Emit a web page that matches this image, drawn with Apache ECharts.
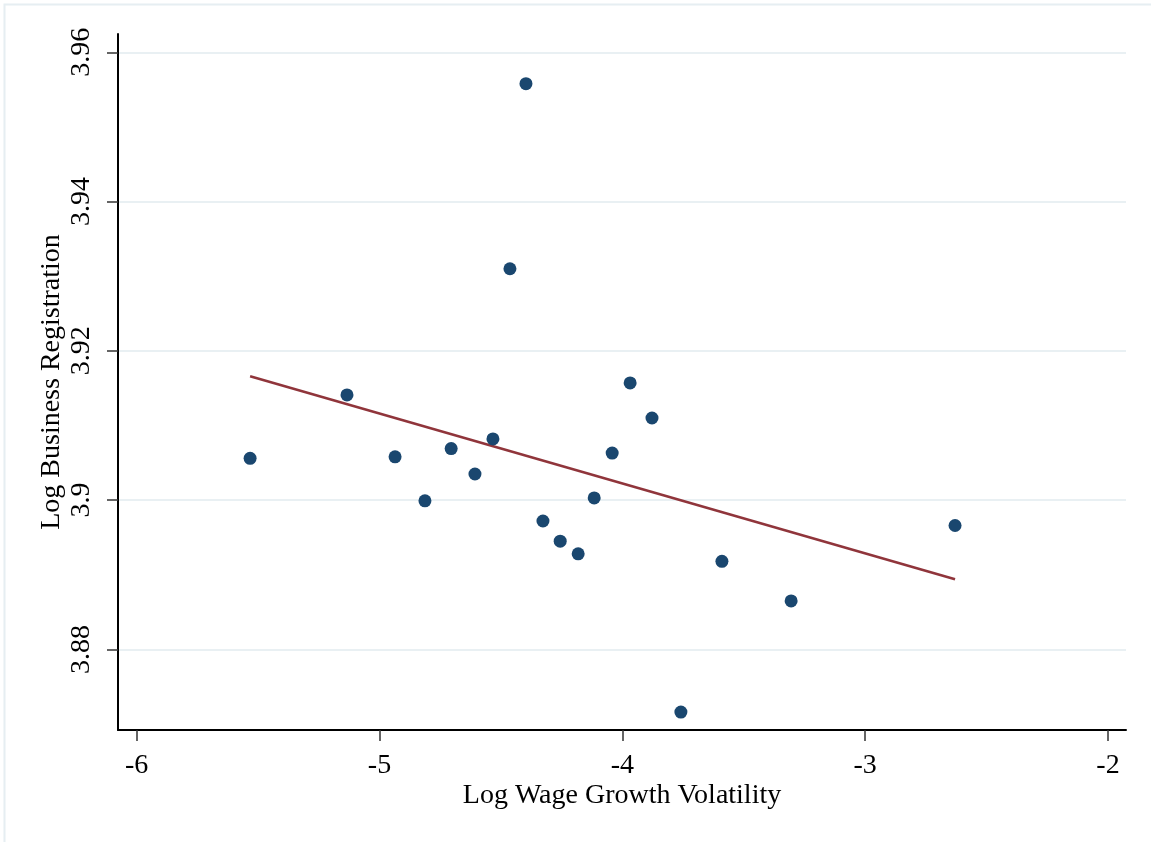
<!DOCTYPE html>
<html>
<head>
<meta charset="utf-8">
<script src="https://cdn.jsdelivr.net/npm/echarts@6/dist/echarts.min.js"></script>
<style>
html, body { margin: 0; padding: 0; background: #fff; }
#chart { width: 1151px; height: 842px; }
</style>
</head>
<body>
<div id="chart"></div>
<script>
// log wage growth volatility (x) vs log business registration (y)
var wageVol = [-5.533, -5.134, -4.936, -4.813, -4.705, -4.607, -4.533, -4.463, -4.397, -4.327,
               -4.256, -4.182, -4.116, -4.042, -3.968, -3.878, -3.759, -3.590, -3.305, -2.630];
var bizReg  = [3.9056, 3.9141, 3.9058, 3.8999, 3.9069, 3.9035, 3.9082, 3.9310, 3.9558, 3.8972,
               3.8945, 3.8928, 3.9003, 3.9063, 3.9157, 3.9110, 3.8716, 3.8918, 3.8865, 3.8966];
// fitted line end points
var fitX = [-5.533, -2.630];
var fitY = [3.9166, 3.8894];
var xTicks = [-6, -5, -4, -3, -2];
var yTicks = [3.88, 3.9, 3.92, 3.94, 3.96];

var points = [];
for (var i = 0; i < wageVol.length; i++) {
	points.push([wageVol[i], bizReg[i]]);
}
var fitLine = [];
for (var j = 0; j < fitX.length; j++) {
	fitLine.push([fitX[j], fitY[j]]);
}

var chart = echarts.init(document.getElementById('chart'));
var fontName = 'Liberation Serif';
var option = {
	backgroundColor: '#fff',
	animation: false,
	graphic: [{
		type: 'rect',
		shape: { x: 4.5, y: 4.5, width: 1160, height: 850 },
		style: { fill: 'none', stroke: '#e6eef2', lineWidth: 2 },
		silent: true
	}],
	grid: { left: 118, right: 25, top: 34, bottom: 112, containLabel: false },
	xAxis: {
		type: 'value',
		min: -6.077,
		max: -1.926,
		name: 'Log Wage Growth Volatility',
		nameLocation: 'middle',
		nameMoveOverlap: false,
		nameGap: 52,
		nameTextStyle: { fontFamily: fontName, fontSize: 28, color: '#000' },
		axisLine: { show: true, onZero: false, lineStyle: { color: '#000', width: 2 } },
		axisTick: { show: true, length: 11, customValues: xTicks, lineStyle: { color: '#333', width: 1.5 } },
		axisLabel: { customValues: xTicks, margin: 22, fontFamily: fontName, fontSize: 28, color: '#000' },
		splitLine: { show: false }
	},
	yAxis: {
		type: 'value',
		min: 3.8692,
		max: 3.96245,
		name: 'Log Business Registration',
		nameLocation: 'middle',
		nameMoveOverlap: false,
		nameGap: 52,
		nameTextStyle: { fontFamily: fontName, fontSize: 28, color: '#000' },
		axisLine: { show: true, onZero: false, lineStyle: { color: '#000', width: 2 } },
		axisTick: { show: true, length: 11, customValues: yTicks, lineStyle: { color: '#333', width: 1.5 } },
		axisLabel: { customValues: yTicks, rotate: 90, margin: 22, fontFamily: fontName, fontSize: 28, color: '#000' },
		splitLine: { show: true, lineStyle: { color: '#e9f0f3', width: 2 } }
	},
	series: [
		{
			name: 'fit',
			type: 'line',
			data: fitLine,
			showSymbol: false,
			lineStyle: { color: '#90353b', width: 2.5 },
			z: 2
		},
		{
			name: 'obs',
			type: 'scatter',
			data: points,
			symbol: 'circle',
			symbolSize: 13,
			itemStyle: { color: '#1a476f', opacity: 1 },
			z: 3
		}
	]
};
chart.setOption(option);
</script>
</body>
</html>
